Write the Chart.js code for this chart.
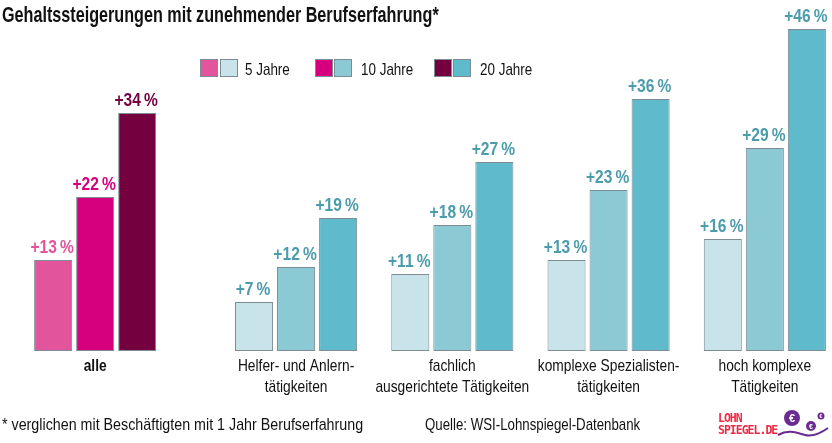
<!DOCTYPE html>
<html lang="de">
<head>
<meta charset="utf-8">
<script src="https://cdn.jsdelivr.net/npm/chart.js@4"></script>
<style>
  html, body { margin: 0; padding: 0; background: #fff; }
  #wrap { position: relative; width: 832px; height: 443px; overflow: hidden;
    font-family: "Liberation Sans", sans-serif; color: #111; }
  #myChart { position: absolute; left: 0; top: 0; }
  .txt { position: absolute; white-space: nowrap; line-height: 1; transform-origin: 0 50%; }
  .sw { position: absolute; top: 59px; width: 16px; height: 16px; border: 1px solid #7d8c92; box-sizing: content-box; }
</style>
</head>
<body>
<div id="wrap">
  <canvas id="myChart" width="832" height="443"></canvas>
  <div class="txt" style="left:2px;top:4px;font-size:22px;font-weight:bold;transform:scaleX(.735)">Gehaltssteigerungen mit zunehmender Berufserfahrung*</div>

  <div class="sw" style="left:200px;background:#e2559c"></div>
  <div class="sw" style="left:220px;background:#c8e3e9"></div>
  <div class="txt" style="left:245px;top:61px;font-size:17px;transform:scaleX(.79)">5 Jahre</div>
  <div class="sw" style="left:315px;background:#d6007f"></div>
  <div class="sw" style="left:334px;background:#8bc9d5"></div>
  <div class="txt" style="left:361px;top:61px;font-size:17px;transform:scaleX(.79)">10 Jahre</div>
  <div class="sw" style="left:434px;background:#750040"></div>
  <div class="sw" style="left:453px;background:#5fbacc"></div>
  <div class="txt" style="left:480px;top:61px;font-size:17px;transform:scaleX(.79)">20 Jahre</div>

  <div class="txt" style="left:2px;top:416px;font-size:17px;transform:scaleX(.84)">* verglichen mit Beschäftigten mit 1 Jahr Berufserfahrung</div>
  <div class="txt" style="left:425px;top:416px;font-size:17px;transform:scaleX(.78)">Quelle: WSI-Lohnspiegel-Datenbank</div>

  <div class="txt" style="left:718px;top:412px;font-size:11.5px;line-height:12px;font-family:'DejaVu Sans Mono',monospace;font-weight:bold;color:#ee2a45;letter-spacing:-1px">LOHN<br>SPIEGEL.DE</div>
  <svg style="position:absolute;left:775px;top:405px" width="57" height="36" viewBox="0 0 57 36">
    <path d="M3 30 C14 24 22 28 30 30 C38 32 46 28 53 23" fill="none" stroke="#6b2c91" stroke-width="2"/>
    <circle cx="17" cy="13" r="8" fill="#6b2c91"/>
    <circle cx="36" cy="21" r="5" fill="#6b2c91"/>
    <circle cx="46" cy="11" r="3.5" fill="#6b2c91"/>
    <text x="17" y="17" font-size="11" font-weight="bold" fill="#fff" text-anchor="middle" font-family="Liberation Sans">€</text>
    <text x="36" y="24" font-size="7" font-weight="bold" fill="#fff" text-anchor="middle" font-family="Liberation Sans">€</text>
    <text x="46" y="13" font-size="5" font-weight="bold" fill="#fff" text-anchor="middle" font-family="Liberation Sans">€</text>
  </svg>
</div>
<script>
  const categories = [
    "alle",
    ["Helfer- und Anlern-", "tätigkeiten"],
    ["fachlich", "ausgerichtete Tätigkeiten"],
    ["komplexe Spezialisten-", "tätigkeiten"],
    ["hoch komplexe", "Tätigkeiten"],
  ];
  const seriesNames = ["5 Jahre", "10 Jahre", "20 Jahre"];
  const values5 = [13, 7, 11, 13, 16];
  const values10 = [22, 12, 18, 23, 29];
  const values20 = [34, 19, 27, 36, 46];

  // empty category slots in front of each group, the first gap is wider
  const spacers = [0, 8, 6, 6, 6];

  const fillAll = ["#e2559c", "#d6007f", "#750040"];
  const fillJobs = ["#c8e3e9", "#8bc9d5", "#5fbacc"];
  const textAll = ["#e2559c", "#d6007f", "#750040"];
  const textJobs = "#4c9cab";

  let labels = [];
  let rows = [[], [], []];
  let sources = [values5, values10, values20];
  categories.forEach((cat, i) => {
    for (let s = 0; s < spacers[i]; s++) {
      labels.push("");
      rows.forEach(r => r.push(null));
    }
    labels.push(cat);
    rows.forEach((r, k) => r.push(sources[k][i]));
  });

  // there is no condensed font installed, so text on the canvas is squeezed by hand
  function narrowText(c, text, x, y, sx) {
    c.save();
    c.translate(x, y);
    c.scale(sx, 1);
    c.fillText(text, 0, 0);
    c.restore();
  }

  const textLabels = {
    id: "textLabels",
    afterDatasetsDraw(chart) {
      const c = chart.ctx;
      c.save();
      c.textAlign = "center";
      c.textBaseline = "alphabetic";

      // value labels on top of the bars
      c.font = "bold 19px 'Liberation Sans', sans-serif";
      chart.data.datasets.forEach((ds, k) => {
        chart.getDatasetMeta(k).data.forEach((bar, i) => {
          if (ds.data[i] === null) return;
          c.fillStyle = i === 0 ? textAll[k] : textJobs;
          narrowText(c, "+" + ds.data[i] + "\u2009%", bar.x - 1, bar.y - 7, 0.82);
        });
      });

      // category names under the groups
      const xs = chart.scales.x;
      c.fillStyle = "#111";
      chart.data.labels.forEach((lab, i) => {
        if (!lab) return;
        c.font = (i === 0 ? "bold " : "") + "17px 'Liberation Sans', sans-serif";
        [].concat(lab).forEach((line, n) => {
          narrowText(c, line, xs.getPixelForValue(i), 371 + n * 21, 0.81);
        });
      });
      c.restore();
    }
  };

  new Chart(document.getElementById("myChart").getContext("2d"), {
    type: "bar",
    data: {
      labels: labels,
      datasets: rows.map((r, k) => ({
        label: seriesNames[k],
        data: r,
        backgroundColor: r.map((v, i) => i === 0 ? fillAll[k] : fillJobs[k]),
        borderColor: "#7d8c92",
        borderWidth: 1,
        borderSkipped: false,
        clip: false,
      })),
    },
    options: {
      responsive: false,
      animation: false,
      categoryPercentage: 5.65,
      barPercentage: 0.905,
      layout: { padding: { left: 84, right: 56, top: 1, bottom: 0 } },
      plugins: { legend: { display: false }, title: { display: false }, tooltip: { enabled: false } },
      scales: {
        x: {
          offset: true,
          afterFit(s) { s.height = 92; },
          grid: { display: false },
          border: { display: false },
          ticks: { display: false, autoSkip: false, maxRotation: 0 },
        },
        y: { display: false, min: 0, max: 50 },
      },
    },
    plugins: [textLabels],
  });
</script>
</body>
</html>
